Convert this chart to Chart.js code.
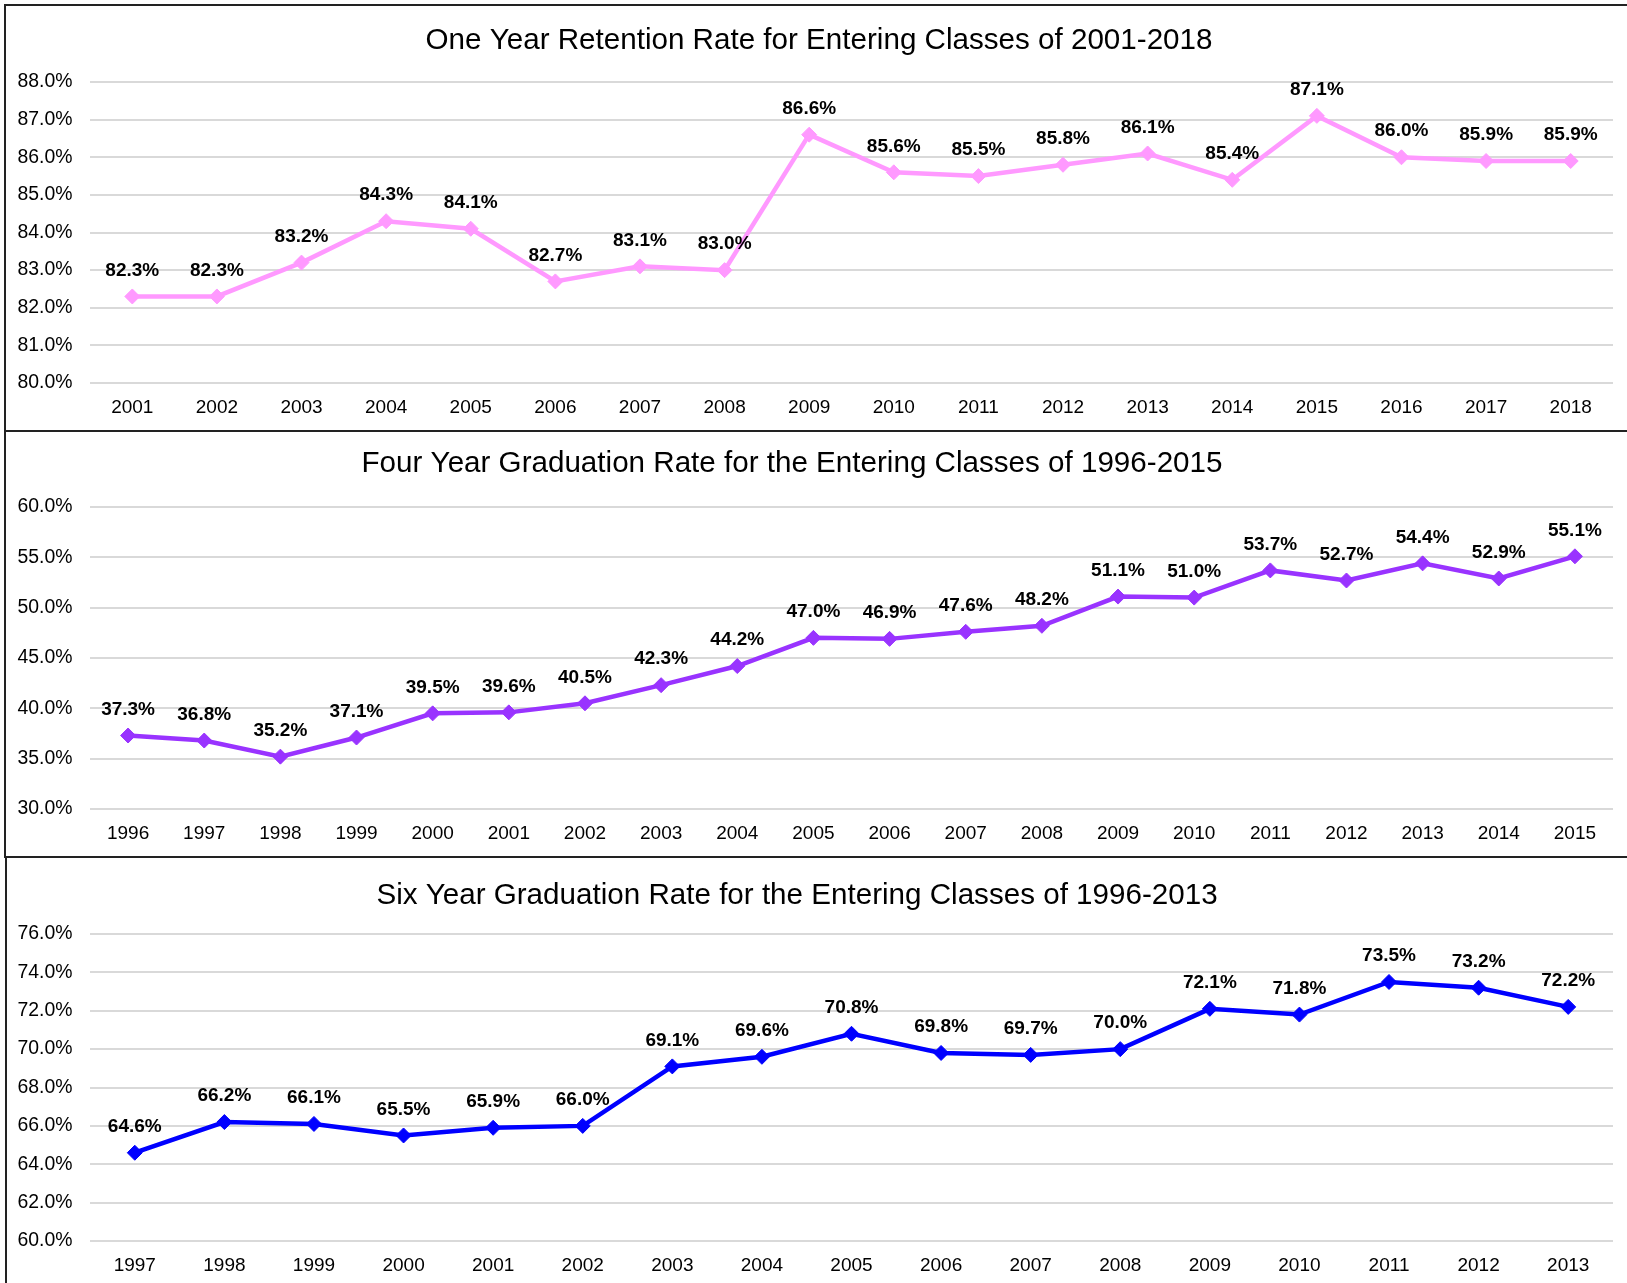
<!DOCTYPE html>
<html>
<head>
<meta charset="utf-8">
<script src="https://cdn.jsdelivr.net/npm/chart.js@4/dist/chart.umd.min.js"></script>
<style>
    html, body { margin: 0; padding: 0; background: #fff; overflow: hidden; }
    body { width: 1627px; height: 1283px; position: relative; }
    .panel { position: absolute; border: 2px solid #222; border-right: none; box-sizing: border-box; }
    canvas { position: absolute; left: 0; }
</style>
</head>
<body>
<div class="panel" style="left:4px; top:4px; width:1640px; height:428px;"></div>
<div class="panel" style="left:4px; top:430px; width:1640px; height:428px;"></div>
<div class="panel" style="left:5px; top:856px; width:1640px; height:440px;"></div>
<canvas id="c-retention" style="top:0px; width:1627px; height:430px;"></canvas>
<canvas id="c-four" style="top:430px; width:1627px; height:427px;"></canvas>
<canvas id="c-six" style="top:856px; width:1627px; height:427px;"></canvas>
<script>
// --- data ---
const retentionYears = ['2001','2002','2003','2004','2005','2006','2007','2008','2009',
                        '2010','2011','2012','2013','2014','2015','2016','2017','2018'];
const retentionRates = [82.3, 82.3, 83.2, 84.3, 84.1, 82.7, 83.1, 83.0, 86.6,
                        85.6, 85.5, 85.8, 86.1, 85.4, 87.1, 86.0, 85.9, 85.9];

const fourYearYears = ['1996','1997','1998','1999','2000','2001','2002','2003','2004','2005',
                       '2006','2007','2008','2009','2010','2011','2012','2013','2014','2015'];
const fourYearRates = [37.3, 36.8, 35.2, 37.1, 39.5, 39.6, 40.5, 42.3, 44.2, 47.0,
                       46.9, 47.6, 48.2, 51.1, 51.0, 53.7, 52.7, 54.4, 52.9, 55.1];

const sixYearYears = ['1997','1998','1999','2000','2001','2002','2003','2004','2005',
                      '2006','2007','2008','2009','2010','2011','2012','2013'];
const sixYearRates = [64.6, 66.2, 66.1, 65.5, 65.9, 66.0, 69.1, 69.6, 70.8,
                      69.8, 69.7, 70.0, 72.1, 71.8, 73.5, 73.2, 72.2];

const FONT = "'Liberation Sans', Arial, sans-serif";

// --- plugins ---
// title drawn by hand so it can sit off-centre like the original
const panelTitle = {
    id: 'panelTitle',
    afterDraw(chart, args, opts) {
        const ctx = chart.ctx;
        ctx.save();
        ctx.font = `29.6px ${FONT}`;
        ctx.fillStyle = '#000';
        ctx.textAlign = 'center';
        ctx.textBaseline = 'middle';
        ctx.fillText(opts.text, opts.x, opts.y);
        ctx.restore();
    }
};

// value labels above each marker
const valueLabels = {
    id: 'valueLabels',
    afterDatasetsDraw(chart) {
        const ctx = chart.ctx;
        ctx.save();
        ctx.font = `bold 19px ${FONT}`;
        ctx.fillStyle = '#000';
        ctx.textAlign = 'center';
        ctx.textBaseline = 'middle';
        chart.data.datasets.forEach((ds, di) => {
            chart.getDatasetMeta(di).data.forEach((pt, i) => {
                ctx.fillText(ds.data[i].toFixed(1) + '%', pt.x, pt.y - 26);
            });
        });
        ctx.restore();
    }
};

function makeChart(id, cfg) {
    return new Chart(document.getElementById(id), {
        type: 'line',
        data: {
            labels: cfg.labels,
            datasets: [{
                data: cfg.values,
                borderColor: cfg.color,
                backgroundColor: cfg.color,
                borderWidth: 4.5,
                tension: 0,
                pointStyle: 'rectRot',
                pointRadius: 7.5,
                pointHoverRadius: 7.5,
                pointBorderWidth: 1,
                pointBorderColor: cfg.color,
            }]
        },
        options: {
            responsive: false,
            animation: false,
            layout: { padding: { left: 0, right: 14, top: cfg.plotTop, bottom: 0 } },
            plugins: {
                legend: { display: false },
                tooltip: { enabled: false },
                title: { display: false },
                panelTitle: { text: cfg.title, x: cfg.titleX, y: cfg.titleY }
            },
            scales: {
                x: {
                    offset: true,
                    grid: { display: false, drawTicks: false },
                    border: { display: false },
                    afterFit: s => { s.height = cfg.xAxisH; },
                    ticks: { color: '#000', padding: 13, maxRotation: 0, autoSkip: false,
                             font: { family: FONT, size: 19 } }
                },
                y: {
                    min: cfg.min, max: cfg.max,
                    grid: { color: '#d9d9d9', lineWidth: 2, drawTicks: false },
                    border: { display: false },
                    afterFit: s => { s.width = 90; },
                    ticks: { stepSize: cfg.step, color: '#000', padding: 17.5,
                             font: { family: FONT, size: 19.4 },
                             callback: v => v.toFixed(1) + '%' }
                }
            }
        },
        plugins: [panelTitle, valueLabels]
    });
}

function sizeCanvas(id) {
    const el = document.getElementById(id);
    el.width = parseInt(el.style.width);
    el.height = parseInt(el.style.height);
}
['c-retention', 'c-four', 'c-six'].forEach(sizeCanvas);

makeChart('c-retention', {
    title: 'One Year Retention Rate for Entering Classes of 2001-2018',
    labels: retentionYears, values: retentionRates, color: '#ff99ff',
    min: 80, max: 88, step: 1,
    titleX: 819, titleY: 41, plotTop: 82, xAxisH: 47
});
makeChart('c-four', {
    title: 'Four Year Graduation Rate for the Entering Classes of 1996-2015',
    labels: fourYearYears, values: fourYearRates, color: '#9933ff',
    min: 30, max: 60, step: 5,
    titleX: 792, titleY: 34, plotTop: 77, xAxisH: 48
});
makeChart('c-six', {
    title: 'Six Year Graduation Rate for the Entering Classes of 1996-2013',
    labels: sixYearYears, values: sixYearRates, color: '#0000ff',
    min: 60, max: 76, step: 2,
    titleX: 797, titleY: 39.5, plotTop: 78, xAxisH: 42
});
</script>
</body>
</html>
